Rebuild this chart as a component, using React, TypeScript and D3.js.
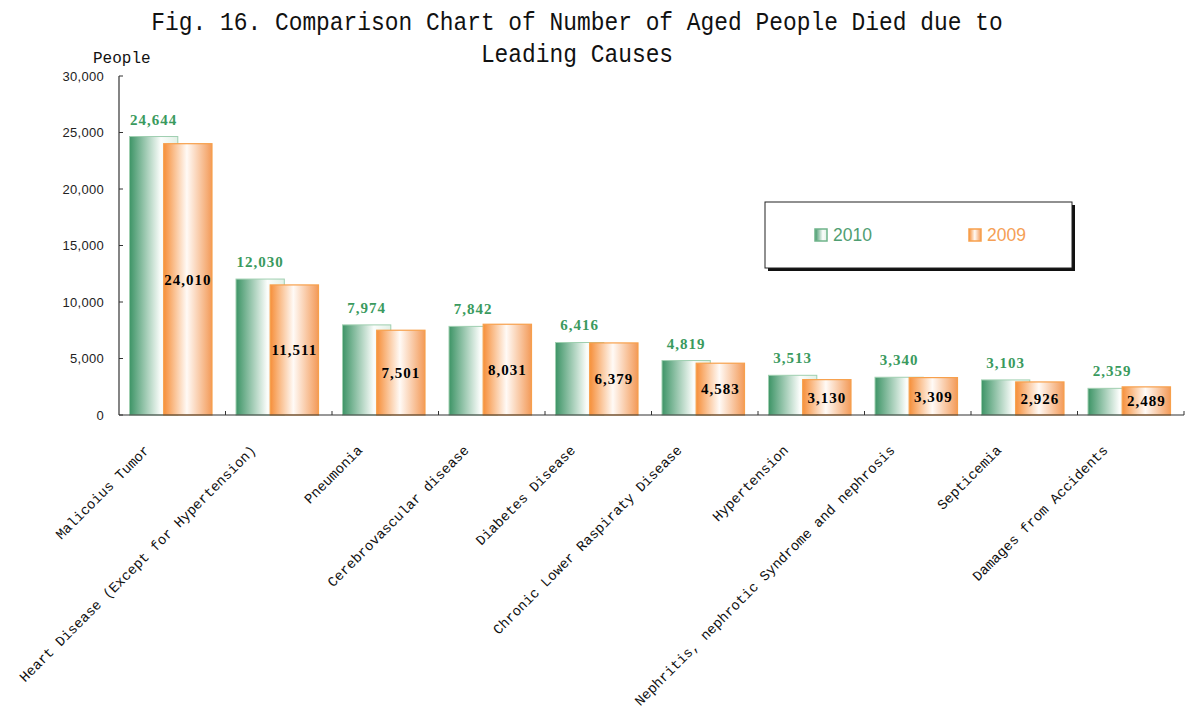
import React from "react";
import * as d3 from "d3";

const categories = [
  "Malicoius Tumor",
  "Heart Disease (Except for Hypertension)",
  "Pneumonia",
  "Cerebrovascular disease",
  "Diabetes Disease",
  "Chronic Lower Raspiraty Disease",
  "Hypertension",
  "Nephritis, nephrotic Syndrome and nephrosis",
  "Septicemia",
  "Damages from Accidents",
];
const values2010 = [24644, 12030, 7974, 7842, 6416, 4819, 3513, 3340, 3103, 2359];
const values2009 = [24010, 11511, 7501, 8031, 6379, 4583, 3130, 3309, 2926, 2489];
const yTicks = [0, 5000, 10000, 15000, 20000, 25000, 30000];
const seriesNames = ["2010", "2009"];
const titleLines = [
  "Fig. 16. Comparison Chart of Number of Aged People Died due to",
  "Leading Causes",
];

const W = 1190;
const H = 718;
const plot = { left: 119, right: 1184, top: 76, bottom: 415 };
const GREEN = "#3f9a6b";
const ORANGE = "#f5913f";

export default function App() {
  const x = d3
    .scaleBand<string>()
    .domain(categories)
    .range([plot.left, plot.right])
    .paddingInner(0)
    .paddingOuter(0);
  const y = d3.scaleLinear().domain([0, 30000]).range([plot.bottom, plot.top]);
  const bw = x.bandwidth();
  const barW = bw * 0.4535;
  const gOff = bw * 0.0986;
  const oOff = gOff + bw * 0.321;
  const fmt = d3.format(",");

  return (
    <svg width={W} height={H} style={{ position: "absolute", left: 0, top: 0, background: "#fff" }}>
      <defs>
        <linearGradient id="gGreen" x1="0" x2="1" y1="0" y2="0">
          <stop offset="0" stopColor="#3d9466" />
          <stop offset="0.65" stopColor="#fbfdfb" />
          <stop offset="1" stopColor="#e2f0e6" />
        </linearGradient>
        <linearGradient id="gOrange" x1="0" x2="1" y1="0" y2="0">
          <stop offset="0" stopColor="#f68f3a" />
          <stop offset="0.48" stopColor="#fffaf6" />
          <stop offset="1" stopColor="#f39a58" />
        </linearGradient>
      </defs>

      {/* title */}
      {titleLines.map((t, i) => (
        <text
          key={i}
          x={577}
          y={30 + i * 32}
          textAnchor="middle"
          fontFamily="'Liberation Mono', monospace"
          fontSize={26}
          textLength={t.length * 13.73}
          lengthAdjust="spacingAndGlyphs"
          fill="#111"
        >
          {t}
        </text>
      ))}

      <text x={93} y={63} fontFamily="'Liberation Mono', monospace" fontSize={16} fill="#111">
        People
      </text>

      {/* y axis */}
      <line x1={plot.left} x2={plot.left} y1={plot.top} y2={plot.bottom} stroke="#333" strokeWidth={1.2} />
      {yTicks.map((t) => (
        <g key={t}>
          <line x1={plot.left} x2={plot.left + 4} y1={y(t)} y2={y(t)} stroke="#333" />
          <text
            x={104}
            y={y(t)}
            dy="0.35em"
            textAnchor="end"
            fontFamily="'Liberation Sans', Arial, sans-serif"
            fontSize={13}
            letterSpacing={0.3}
            fill="#222"
          >
            {fmt(t)}
          </text>
        </g>
      ))}

      {/* bars */}
      {categories.map((c, i) => {
        const x0 = x(c)!;
        const v1 = values2010[i];
        const v2 = values2009[i];
        return (
          <g key={c}>
            <rect
              x={x0 + gOff}
              y={y(v1)}
              width={barW}
              height={y(0) - y(v1)}
              fill="url(#gGreen)"
              stroke="#9fcfb0"
              strokeWidth={1}
            />
            <rect
              x={x0 + oOff}
              y={y(v2)}
              width={barW}
              height={y(0) - y(v2)}
              fill="url(#gOrange)"
              stroke="#f7a04c"
              strokeWidth={1.2}
            />
          </g>
        );
      })}

      {/* x axis */}
      <line x1={plot.left} x2={plot.right} y1={plot.bottom} y2={plot.bottom} stroke="#333" strokeWidth={1.2} />
      {categories.map((c, i) => (
        <line
          key={c}
          x1={x(c)! + bw}
          x2={x(c)! + bw}
          y1={plot.bottom}
          y2={plot.bottom - 4}
          stroke="#333"
        />
      ))}

      {/* value labels */}
      {categories.map((c, i) => {
        const x0 = x(c)!;
        const v1 = values2010[i];
        const v2 = values2009[i];
        return (
          <g key={c} fontFamily="'Liberation Serif', 'Times New Roman', serif" fontWeight="bold" fontSize={15}>
            <text
              x={x0 + gOff + barW / 2}
              y={y(v1) - 12}
              textAnchor="middle"
              fill="#3a9a5e"
              letterSpacing={1}
            >
              {fmt(v1)}
            </text>
            <text
              x={x0 + oOff + barW / 2}
              y={(y(v2) + y(0)) / 2}
              dy="0.35em"
              textAnchor="middle"
              fill="#000"
              letterSpacing={1}
            >
              {fmt(v2)}
            </text>
          </g>
        );
      })}

      {/* category labels */}
      {categories.map((c) => {
        const cx = x(c)! + bw / 2 - 22;
        const cy = 451;
        return (
          <text
            key={c}
            transform={`translate(${cx},${cy}) rotate(-45)`}
            textAnchor="end"
            fontFamily="'Liberation Mono', monospace"
            fontSize={14}
            fill="#111"
          >
            {c}
          </text>
        );
      })}

      {/* legend */}
      <rect x={768} y={205} width={307} height={66} fill="#111" />
      <rect x={765} y={202} width={307} height={66} fill="#fff" stroke="#222" strokeWidth={1} />
      {seriesNames.map((s, i) => {
        const lx = i === 0 ? 815 : 969;
        return (
          <g key={s}>
            <rect
              x={lx}
              y={229}
              width={12}
              height={12}
              fill={i === 0 ? "url(#gGreen)" : "url(#gOrange)"}
              stroke={i === 0 ? "#6fb48a" : "#f7a04c"}
              strokeWidth={1.5}
            />
            <text
              x={lx + 18}
              y={241}
              fontFamily="'Liberation Sans', Arial, sans-serif"
              fontSize={17.5}
              fill={i === 0 ? "#4f9e72" : "#f5a055"}
            >
              {s}
            </text>
          </g>
        );
      })}
    </svg>
  );
}
